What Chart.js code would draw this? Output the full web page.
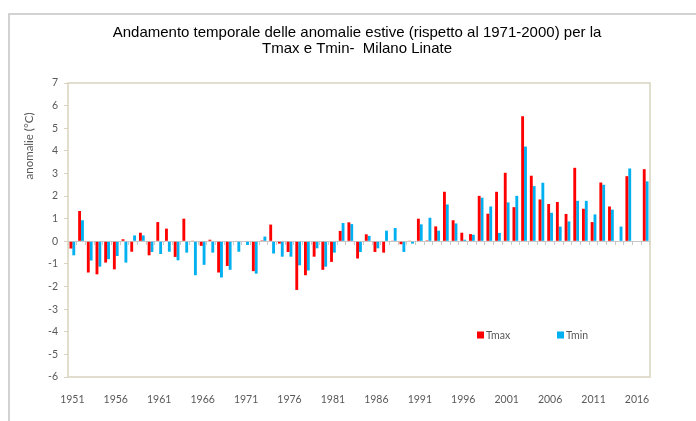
<!DOCTYPE html>
<html>
<head>
<meta charset="utf-8">
<script src="https://cdn.jsdelivr.net/npm/chart.js@4/dist/chart.umd.min.js"></script>
<style>
  html, body { margin: 0; padding: 0; background: #ffffff; }
  #wrap { width: 696px; height: 421px; position: relative; }
</style>
</head>
<body>
<div id="wrap"><canvas id="c" width="696" height="421"></canvas></div>
<script>
// ---- data ----
const years = [];
for (let y = 1951; y <= 2017; y++) years.push(String(y));

const titleLines = [
  "Andamento temporale delle anomalie estive (rispetto al 1971-2000) per la",
  "Tmax e Tmin-  Milano Linate"
];
const yAxisTitle = "anomalie (°C)";
const seriesNames = ["Tmax", "Tmin"];

const tmax = [
  -0.32, 1.34, -1.38, -1.46, -0.94, -1.24, 0.09, -0.46, 0.38, -0.62,
   0.85, 0.56, -0.69, 1.00, 0.03, -0.20, 0.07, -1.38, -1.09, 0.02,
   0.00, -1.32, 0.04, 0.74, -0.10, -0.47, -2.15, -1.50, -0.68, -1.26,
  -0.91, 0.46, 0.84, -0.76, 0.31, -0.47, -0.50, 0.03, -0.13, 0.03,
   1.00, 0.04, 0.66, 2.19, 0.93, 0.38, 0.32, 2.01, 1.22, 2.19,
   3.03, 1.51, 5.53, 2.90, 1.85, 1.65, 1.74, 1.21, 3.25, 1.44,
   0.85, 2.60, 1.54, null, 2.88, null, 3.19
];
const tmin = [
  -0.62, 0.93, -0.85, -1.12, -0.79, -0.65, -0.94, 0.26, 0.26, -0.47,
  -0.56, -0.46, -0.84, -0.50, -1.50, -1.04, -0.50, -1.60, -1.26, -0.46,
  -0.16, -1.43, 0.21, -0.54, -0.68, -0.68, -1.06, -1.29, -0.31, -1.12,
  -0.50, 0.81, 0.76, -0.47, 0.24, -0.31, 0.47, 0.59, -0.47, -0.10,
   0.75, 1.04, 0.47, 1.63, 0.79, 0.07, 0.29, 1.93, 1.54, 0.37,
   1.72, 2.01, 4.19, 2.44, 2.59, 1.26, 0.65, 0.88, 1.79, 1.79,
   1.19, 2.50, 1.40, 0.65, 3.22, null, 2.65
];

// ---- styling ----
const RED = "#FF0000";
const BLUE = "#00B0F0";
const TAN = "#D9D3BF";
const TXT = "#595959";
const TICK_FONT = { family: "Lato, 'Open Sans', sans-serif", size: 10.5 };

const decor = {
  id: "decor",
  beforeDraw(chart) {
    const ctx = chart.ctx;
    ctx.save();
    // outer frame (left + top)
    ctx.strokeStyle = "#C3C3C3";
    ctx.lineWidth = 1.5;
    ctx.beginPath();
    ctx.moveTo(9, 421);
    ctx.lineTo(9, 14);
    ctx.lineTo(696, 14);
    ctx.stroke();
    ctx.restore();
  },
  beforeDatasetsDraw(chart) {
    const { ctx, chartArea: a } = chart;
    ctx.save();
    ctx.strokeStyle = TAN;
    ctx.lineWidth = 1.5;
    ctx.strokeRect(a.left, a.top, a.right - a.left, a.bottom - a.top);
    ctx.restore();
  },
  afterDraw(chart) {
    const ctx = chart.ctx;
    ctx.save();
    // title
    ctx.fillStyle = "#000000";
    ctx.font = "15px 'Liberation Sans', Arial, sans-serif";
    ctx.textAlign = "center";
    ctx.textBaseline = "alphabetic";
    ctx.fillText(titleLines[0], 357, 37);
    ctx.fillText(titleLines[1], 357, 52.5);
    // y-axis title
    ctx.save();
    ctx.translate(29, 146);
    ctx.rotate(-Math.PI / 2);
    ctx.fillStyle = TXT;
    ctx.font = "11.5px Lato, 'Open Sans', sans-serif";
    ctx.textAlign = "center";
    ctx.textBaseline = "middle";
    ctx.fillText(yAxisTitle, 0, 0);
    ctx.restore();
    // legend
    const items = [{ x: 477, y: 335 }, { x: 557, y: 335 }];
    ctx.font = "10.5px Lato, 'Open Sans', sans-serif";
    ctx.textAlign = "left";
    ctx.textBaseline = "middle";
    chart.data.datasets.forEach((ds, i) => {
      const p = items[i];
      ctx.fillStyle = ds.backgroundColor;
      ctx.fillRect(p.x, p.y - 3.5, 7, 7);
      ctx.fillStyle = TXT;
      ctx.fillText(ds.label, p.x + 9, p.y + 0.5);
    });
    ctx.restore();
  }
};

new Chart(document.getElementById("c"), {
  type: "bar",
  data: {
    labels: years,
    datasets: [
      { label: seriesNames[0], data: tmax, backgroundColor: RED, borderWidth: 0,
        categoryPercentage: 0.66, barPercentage: 1.0 },
      { label: seriesNames[1], data: tmin, backgroundColor: BLUE, borderWidth: 0,
        categoryPercentage: 0.66, barPercentage: 1.0 }
    ]
  },
  options: {
    responsive: false,
    devicePixelRatio: 1,
    animation: false,
    layout: { padding: { top: 83, right: 46, bottom: 0, left: 0 } },
    plugins: {
      legend: { display: false },
      title: { display: false },
      tooltip: { enabled: false }
    },
    scales: {
      x: {
        type: "category",
        position: "bottom",
        offset: true,
        grid: { display: false },
        border: { display: false },
        ticks: {
          autoSkip: false,
          maxRotation: 0,
          minRotation: 0,
          padding: 8,
          color: TXT,
          font: TICK_FONT,
          callback: function (v, i) { return i % 5 === 0 ? this.getLabelForValue(v) : ""; }
        },
        afterFit(scale) { scale.height = 44; }
      },
      x2: {
        type: "category",
        position: { y: 0 },
        offset: true,
        grid: { drawOnChartArea: false, drawTicks: true, tickLength: 3, color: "#C8C8C8", offset: true },
        border: { display: true, color: "#C8C8C8", width: 1 },
        ticks: { display: false }
      },
      y: {
        min: -6,
        max: 7,
        ticks: { stepSize: 1, padding: 6, color: TXT, font: TICK_FONT },
        grid: { drawOnChartArea: false, drawTicks: true, tickLength: 4, color: TAN },
        border: { display: false },
        afterFit(scale) { scale.width = 68; }
      }
    }
  },
  plugins: [decor]
});
</script>
</body>
</html>
